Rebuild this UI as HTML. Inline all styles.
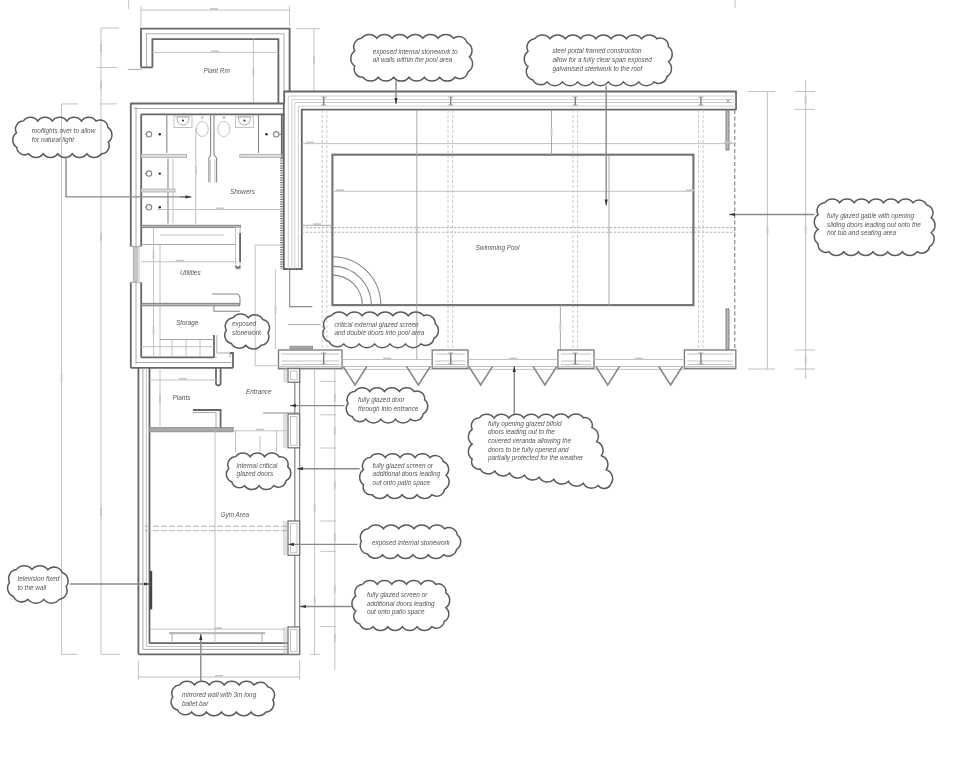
<!DOCTYPE html>
<html><head><meta charset="utf-8"><style>
html,body{margin:0;padding:0;background:#fff;}
svg{display:block;filter:blur(0.35px);}
line,polyline,polygon,rect,path,ellipse,circle{fill:none;}
.w{stroke:#666;stroke-width:1.8;}
.w2{stroke:#777;stroke-width:1.3;}
.t{stroke:#a0a0a0;stroke-width:0.9;}
.t2{stroke:#888;stroke-width:1.1;}
.l{stroke:#bbb;stroke-width:0.9;}
.d{stroke:#c4c4c4;stroke-width:0.9;stroke-dasharray:3 2;}
.d2{stroke:#aaa;stroke-width:0.9;stroke-dasharray:6 2;}
.d3{stroke:#bbb;stroke-width:1.1;stroke-dasharray:2.5 1.5;}
.dd{stroke:#999;stroke-width:1.4;stroke-dasharray:4 2.5;}
.hat{stroke:#666;stroke-width:2.4;stroke-dasharray:1.2 1.2;}
.p{stroke:#aaa;stroke-width:0.8;fill:#ddd;}
.pw{stroke:#777;stroke-width:0.9;fill:#bbb;}
.pg{stroke:#888;stroke-width:0.8;fill:#aaa;}
.pier{stroke:#777;stroke-width:1.3;fill:#fff;}
.g{stroke:#8a8a8a;stroke-width:1.3;}
.pool{stroke:#777;stroke-width:2.2;}
.gb{stroke:#777;stroke-width:0.9;fill:#bbb;}
.tri{stroke:#888;stroke-width:1.5;}
.mir{fill:#444;stroke:none;}
.win{fill:#c8c8c8;stroke:#999;stroke-width:0.6;}
.bb{stroke:#bbb;stroke-width:2.2;}
.dot{fill:#222;stroke:none;}
.cl{stroke:#5a5a5a;stroke-width:1.5;fill:none;}
.ar{stroke:#8a8a8a;stroke-width:1.4;}
.ah{fill:#333;stroke:none;}
text{font-family:"Liberation Sans",sans-serif;font-style:italic;}
.ct{font-size:6.4px;fill:#555;}
.rm{font-size:6.4px;fill:#555;}
.dm{font-size:3px;fill:#999;}
.dmb{fill:#c8c8c8;stroke:none;}
.l2{stroke:#c8c8c8;stroke-width:0.9;}
</style></head><body>
<svg width="962" height="757" viewBox="0 0 962 757">
<rect x="0" y="0" width="962" height="757" fill="#fff"/>
<line x1="61.5" y1="103.9" x2="61.5" y2="654.3" class="l"/>
<line x1="101" y1="28" x2="101" y2="654.3" class="l"/>
<line x1="101" y1="28" x2="119" y2="28" class="l"/>
<line x1="97" y1="67.5" x2="117" y2="67.5" class="l"/>
<line x1="100" y1="103.9" x2="117" y2="103.9" class="l"/>
<line x1="101" y1="654.3" x2="120" y2="654.3" class="l"/>
<line x1="61.5" y1="103.9" x2="78" y2="103.9" class="l"/>
<line x1="61.5" y1="654.3" x2="78" y2="654.3" class="l"/>
<line x1="127.8" y1="69.4" x2="141.7" y2="69.4" class="t"/>
<line x1="128.7" y1="0" x2="128.7" y2="9" class="l"/>
<line x1="735" y1="0" x2="735" y2="8" class="l"/>
<line x1="141" y1="10" x2="289.6" y2="10" class="l"/>
<line x1="141" y1="6" x2="141" y2="26" class="l"/>
<line x1="289.6" y1="6" x2="289.6" y2="26" class="l"/>
<line x1="314" y1="28.7" x2="314" y2="91.5" class="l"/>
<line x1="296" y1="28.7" x2="320" y2="28.7" class="l"/>
<line x1="767.4" y1="91.5" x2="767.4" y2="369" class="l"/>
<line x1="805.6" y1="80" x2="805.6" y2="379" class="l"/>
<line x1="748" y1="91.5" x2="775" y2="91.5" class="l"/>
<line x1="748" y1="369" x2="775" y2="369" class="l"/>
<line x1="795" y1="91.5" x2="815" y2="91.5" class="l"/>
<line x1="795" y1="109.4" x2="815" y2="109.4" class="l"/>
<line x1="795" y1="350" x2="815" y2="350" class="l"/>
<line x1="795" y1="369" x2="815" y2="369" class="l"/>
<line x1="314.6" y1="368" x2="314.6" y2="654" class="l"/>
<line x1="334.8" y1="368" x2="334.8" y2="670" class="l"/>
<line x1="320.4" y1="381.4" x2="336" y2="381.4" class="l"/>
<line x1="320.4" y1="414.8" x2="336" y2="414.8" class="l"/>
<line x1="320.4" y1="448" x2="336" y2="448" class="l"/>
<line x1="320.4" y1="521" x2="336" y2="521" class="l"/>
<line x1="320.4" y1="551.3" x2="336" y2="551.3" class="l"/>
<line x1="320.4" y1="626.6" x2="336" y2="626.6" class="l"/>
<line x1="310" y1="654.4" x2="320" y2="654.4" class="l"/>
<line x1="138.4" y1="677" x2="299.6" y2="677" class="l"/>
<line x1="138.4" y1="660" x2="138.4" y2="680" class="l"/>
<line x1="299.6" y1="660" x2="299.6" y2="680" class="l"/>
<polyline points="141,67.4 141,28.7 289.6,28.7 289.6,91.5" class="w"/>
<polyline points="152.4,67.4 152.4,39.2 278.4,39.2 278.4,103.5" class="w"/>
<line x1="141" y1="67.4" x2="152.4" y2="67.4" class="w"/>
<polyline points="146.5,67 146.5,33.8 284,33.8 284,91.5" class="t"/>
<line x1="152.4" y1="52.4" x2="278.4" y2="52.4" class="l"/>
<line x1="253.4" y1="39.2" x2="253.4" y2="103.5" class="l"/>
<text x="203.5" y="73" class="rm">Plant Rm</text>
<line x1="130.3" y1="103.5" x2="284.6" y2="103.5" class="w"/>
<line x1="130.8" y1="103.5" x2="130.8" y2="246.4" class="w"/>
<line x1="130.8" y1="282.3" x2="130.8" y2="367.9" class="w"/>
<line x1="141.2" y1="114.3" x2="284.7" y2="114.3" class="w"/>
<line x1="141.2" y1="114.3" x2="141.2" y2="246.4" class="w"/>
<line x1="141.2" y1="282.3" x2="141.2" y2="357.3" class="w"/>
<line x1="130.8" y1="246.4" x2="141.2" y2="246.4" class="t"/>
<line x1="130.8" y1="282.3" x2="141.2" y2="282.3" class="t"/>
<rect x="133.2" y="247" width="4.0" height="34.5" class="win"/>
<line x1="139" y1="247" x2="139" y2="281.5" class="l"/>
<line x1="136" y1="107" x2="136" y2="246" class="t"/>
<line x1="136" y1="282" x2="136" y2="364" class="t"/>
<line x1="134" y1="108.5" x2="284" y2="108.5" class="t"/>
<line x1="130.8" y1="367.9" x2="233" y2="367.9" class="w"/>
<polyline points="141.2,357.3 214,357.3" class="w"/>
<polyline points="216.8,335 216.8,353 230,353 230,357.3" class="t"/>
<polyline points="214,335 214,357.3" class="w"/>
<polyline points="214,357.3 216.8,357.3" class="t"/>
<polyline points="233,367.9 233,353 230,353" class="w"/>
<line x1="136" y1="362.5" x2="231" y2="362.5" class="t"/>
<line x1="281.8" y1="114.3" x2="281.8" y2="158" class="w"/>
<line x1="281.5" y1="158" x2="281.5" y2="269" class="hat"/>
<line x1="166.8" y1="114.3" x2="166.8" y2="153" class="t2"/>
<rect x="141.2" y="154.3" width="45.2" height="3.3" class="p"/>
<line x1="168" y1="158.6" x2="168" y2="223.5" class="t2"/>
<line x1="173" y1="158.6" x2="173" y2="223.5" class="l"/>
<rect x="141.2" y="189" width="33.8" height="3" class="p"/>
<line x1="258.5" y1="114.3" x2="258.5" y2="153" class="t2"/>
<rect x="239.8" y="154.3" width="41.7" height="3.3" class="p"/>
<rect x="141.2" y="225.3" width="99.2" height="2.3" class="pw"/>
<path d="M210.6,114.3 L210.6,155 L208.9,158 L208.9,182.5 M214,114.3 L214,155 L216.6,158 L216.6,182.5" class="t2"/>
<path d="M210.6,160 L210.6,182.5 M214.9,160 L214.9,182.5" class="l"/>
<ellipse cx="202.3" cy="129" rx="6" ry="7.5" class="l"/>
<circle cx="202.3" cy="117.5" r="0.9" class="t"/>
<ellipse cx="223.9" cy="129" rx="6" ry="7.5" class="l"/>
<circle cx="223.9" cy="117.5" r="0.9" class="t"/>
<rect x="174" y="116" width="18" height="11.5" class="l"/>
<path d="M177,117 L189,117 Q189,125 183,125 Q177,125 177,117" class="t"/>
<circle cx="183" cy="120.5" r="1" class="dot"/>
<rect x="235.4" y="116" width="18.0" height="11.5" class="l"/>
<path d="M238.4,117 L250.4,117 Q250.4,125 244.4,125 Q238.4,125 238.4,117" class="t"/>
<circle cx="244.4" cy="120.5" r="1" class="dot"/>
<circle cx="149" cy="134.3" r="2.7" class="t2"/>
<circle cx="159.8" cy="134.3" r="1.2" class="dot"/>
<line x1="145" y1="134.3" x2="146.3" y2="134.3" class="t2"/>
<circle cx="149" cy="173.6" r="2.7" class="t2"/>
<circle cx="159.8" cy="173.6" r="1.2" class="dot"/>
<line x1="145" y1="173.6" x2="146.3" y2="173.6" class="t2"/>
<circle cx="149" cy="207.3" r="2.7" class="t2"/>
<circle cx="159.8" cy="207.3" r="1.2" class="dot"/>
<line x1="145" y1="207.3" x2="146.3" y2="207.3" class="t2"/>
<circle cx="276.2" cy="134.3" r="2.7" class="t2"/>
<circle cx="266.5" cy="134.3" r="1.2" class="dot"/>
<line x1="278.9" y1="134.3" x2="281.2" y2="134.3" class="t2"/>
<text x="230" y="194" class="rm">Showers</text>
<line x1="195.8" y1="128" x2="195.8" y2="224" class="l"/>
<line x1="157" y1="209.5" x2="283" y2="209.5" class="l"/>
<text x="188" y="211" class="dm"></text>
<line x1="141.2" y1="244.5" x2="235.6" y2="244.5" class="t"/>
<line x1="160" y1="235" x2="224" y2="235" class="l"/>
<rect x="235.6" y="227.4" width="4.5" height="41.6" class="l"/>
<line x1="240.1" y1="233" x2="240.1" y2="262" class="w"/>
<path d="M236,266 Q238,270 240.1,266" class="w"/>
<line x1="141.2" y1="261.8" x2="237" y2="261.8" class="l"/>
<line x1="153.5" y1="227.6" x2="153.5" y2="357" class="l"/>
<line x1="160" y1="245" x2="160" y2="357" class="l"/>
<text x="180" y="275" class="rm">Utilities</text>
<rect x="141.2" y="303.3" width="98.2" height="2.5" class="pw"/>
<path d="M212,294 L236,294 Q240,294 240,299 L240,305" class="t2"/>
<path d="M214,305.8 L214,311.3 L240,311.3" class="t2"/>
<text x="176" y="325" class="rm">Storage</text>
<line x1="160" y1="339.5" x2="214" y2="339.5" class="t"/>
<line x1="141.2" y1="346.7" x2="214" y2="346.7" class="l"/>
<line x1="172" y1="339.5" x2="172" y2="357" class="l"/>
<line x1="186" y1="339.5" x2="186" y2="357" class="l"/>
<line x1="200" y1="339.5" x2="200" y2="357" class="l"/>
<polyline points="284.8,245 255.2,245 255.2,365.8 278.5,365.8" class="l"/>
<line x1="275.4" y1="269.6" x2="275.4" y2="349" class="l"/>
<polyline points="289.7,269 289.7,306.6 312.3,306.6" class="t2"/>
<polyline points="284.2,103.5 284.2,91.5 736,91.5 736,110" class="w"/>
<polyline points="283.8,103.5 283.8,269 301.8,269 301.8,109.7 736,109.7" class="w"/>
<polyline points="288.3,269 288.3,96.0 736,96.0" class="l2"/>
<polyline points="291.90000000000003,269 291.90000000000003,99.6 736,99.6" class="l2"/>
<polyline points="294.8,269 294.8,102.5 736,102.5" class="l2"/>
<polyline points="298.40000000000003,269 298.40000000000003,106.1 736,106.1" class="l2"/>
<line x1="321.2" y1="97" x2="326.2" y2="97" class="t"/>
<line x1="321.2" y1="105" x2="326.2" y2="105" class="t"/>
<line x1="323.7" y1="97" x2="323.7" y2="105" class="w2"/>
<line x1="448.2" y1="97" x2="453.2" y2="97" class="t"/>
<line x1="448.2" y1="105" x2="453.2" y2="105" class="t"/>
<line x1="450.7" y1="97" x2="450.7" y2="105" class="w2"/>
<line x1="572.8" y1="97" x2="577.8" y2="97" class="t"/>
<line x1="572.8" y1="105" x2="577.8" y2="105" class="t"/>
<line x1="575.3" y1="97" x2="575.3" y2="105" class="w2"/>
<line x1="698.4" y1="97" x2="703.4" y2="97" class="t"/>
<line x1="698.4" y1="105" x2="703.4" y2="105" class="t"/>
<line x1="700.9" y1="97" x2="700.9" y2="105" class="w2"/>
<path d="M726,99 l4,4 m0,-4 l-4,4" class="t"/>
<line x1="322.2" y1="110" x2="322.2" y2="350" class="d"/>
<line x1="326.8" y1="110" x2="326.8" y2="350" class="d"/>
<line x1="448" y1="110" x2="448" y2="350" class="d"/>
<line x1="452.6" y1="110" x2="452.6" y2="350" class="d"/>
<line x1="573" y1="110" x2="573" y2="350" class="d"/>
<line x1="577.6" y1="110" x2="577.6" y2="350" class="d"/>
<line x1="698.5" y1="110" x2="698.5" y2="350" class="d"/>
<line x1="703" y1="110" x2="703" y2="350" class="d"/>
<line x1="302" y1="227.6" x2="736" y2="227.6" class="d3"/>
<line x1="302" y1="232.2" x2="736" y2="232.2" class="d3"/>
<line x1="734.7" y1="110" x2="734.7" y2="350" class="dd"/>
<rect x="332.4" y="154.7" width="361.0" height="150.4" class="pool"/>
<line x1="302" y1="143.6" x2="736" y2="143.6" class="l"/>
<line x1="332.4" y1="191.3" x2="693.4" y2="191.3" class="l"/>
<line x1="416.8" y1="110" x2="416.8" y2="360" class="t"/>
<line x1="551.5" y1="110" x2="551.5" y2="154.7" class="t"/>
<line x1="609" y1="154.7" x2="609" y2="305" class="t"/>
<line x1="560.4" y1="305.1" x2="560.4" y2="350" class="t"/>
<path d="M332.4,275.1 A30,30 0 0 1 362.4,305.1" class="t2"/>
<path d="M332.4,266.1 A39,39 0 0 1 371.4,305.1" class="t2"/>
<path d="M332.4,256.7 A48.4,48.4 0 0 1 380.8,305.1" class="t2"/>
<text x="475.5" y="250" class="rm">Swimming Pool</text>
<line x1="302" y1="225.3" x2="332.4" y2="225.3" class="t"/>
<rect x="726" y="110" width="3" height="40" class="gb"/>
<rect x="726" y="309" width="3" height="41" class="gb"/>
<rect x="278.5" y="350" width="63.5" height="18.4" class="pier"/>
<line x1="281.5" y1="354" x2="339" y2="354" class="l"/>
<line x1="281.5" y1="361" x2="339" y2="361" class="l"/>
<line x1="281.5" y1="364.5" x2="339" y2="364.5" class="l"/>
<line x1="321.2" y1="353" x2="326.2" y2="353" class="t"/>
<line x1="321.2" y1="364" x2="326.2" y2="364" class="t"/>
<line x1="323.7" y1="353" x2="323.7" y2="364" class="w2"/>
<rect x="432.2" y="350" width="35.8" height="18.4" class="pier"/>
<line x1="435.2" y1="354" x2="465" y2="354" class="l"/>
<line x1="435.2" y1="361" x2="465" y2="361" class="l"/>
<line x1="435.2" y1="364.5" x2="465" y2="364.5" class="l"/>
<line x1="448.2" y1="353" x2="453.2" y2="353" class="t"/>
<line x1="448.2" y1="364" x2="453.2" y2="364" class="t"/>
<line x1="450.7" y1="353" x2="450.7" y2="364" class="w2"/>
<rect x="557.9" y="350" width="36.1" height="18.4" class="pier"/>
<line x1="560.9" y1="354" x2="591" y2="354" class="l"/>
<line x1="560.9" y1="361" x2="591" y2="361" class="l"/>
<line x1="560.9" y1="364.5" x2="591" y2="364.5" class="l"/>
<line x1="572.8" y1="353" x2="577.8" y2="353" class="t"/>
<line x1="572.8" y1="364" x2="577.8" y2="364" class="t"/>
<line x1="575.3" y1="353" x2="575.3" y2="364" class="w2"/>
<rect x="684.4" y="350" width="51.4" height="18.4" class="pier"/>
<line x1="687.4" y1="354" x2="732.8" y2="354" class="l"/>
<line x1="687.4" y1="361" x2="732.8" y2="361" class="l"/>
<line x1="687.4" y1="364.5" x2="732.8" y2="364.5" class="l"/>
<line x1="698.4" y1="353" x2="703.4" y2="353" class="t"/>
<line x1="698.4" y1="364" x2="703.4" y2="364" class="t"/>
<line x1="700.9" y1="353" x2="700.9" y2="364" class="w2"/>
<rect x="290" y="346.2" width="22.6" height="2.8" class="pg"/>
<line x1="342" y1="359.5" x2="432.2" y2="359.5" class="l"/>
<line x1="468" y1="359.5" x2="557.9" y2="359.5" class="l"/>
<line x1="594" y1="359.5" x2="684.4" y2="359.5" class="l"/>
<line x1="278" y1="366.5" x2="736" y2="366.5" class="l"/>
<line x1="278" y1="369.4" x2="736" y2="369.4" class="l"/>
<polyline points="343.2,366.5 355,385 366.8,366.5" class="tri"/>
<polyline points="406.59999999999997,366.5 418.4,385 430.2,366.5" class="tri"/>
<polyline points="468.9,366.5 480.7,385 492.5,366.5" class="tri"/>
<polyline points="533.1,366.5 544.9,385 556.6999999999999,366.5" class="tri"/>
<polyline points="595.9000000000001,366.5 607.7,385 619.5,366.5" class="tri"/>
<polyline points="658.8000000000001,366.5 670.6,385 682.4,366.5" class="tri"/>
<line x1="138.4" y1="367.9" x2="138.4" y2="654.3" class="w"/>
<line x1="142.9" y1="367.9" x2="142.9" y2="649.4" class="t"/>
<line x1="149.5" y1="367.9" x2="149.5" y2="643.2" class="w"/>
<line x1="138.4" y1="654.3" x2="299.6" y2="654.3" class="w"/>
<line x1="142.9" y1="649.4" x2="299.6" y2="649.4" class="t"/>
<polyline points="146.4,368 146.4,646.5 295,646.5" class="l"/>
<line x1="149.5" y1="643.2" x2="294.3" y2="643.2" class="w"/>
<line x1="299.6" y1="367.9" x2="299.6" y2="654.3" class="g"/>
<line x1="294.8" y1="382" x2="294.8" y2="643.2" class="g"/>
<rect x="288" y="368.5" width="11.6" height="13.7" class="pier"/>
<rect x="290.5" y="371.0" width="6.5" height="8.7" class="l"/>
<line x1="284" y1="368.5" x2="284" y2="382.2" class="l"/>
<line x1="286" y1="368.5" x2="286" y2="382.2" class="l"/>
<rect x="288" y="414" width="11.6" height="33.8" class="pier"/>
<rect x="290.5" y="416.5" width="6.5" height="28.8" class="l"/>
<line x1="284" y1="414" x2="284" y2="447.8" class="l"/>
<line x1="286" y1="414" x2="286" y2="447.8" class="l"/>
<rect x="288" y="521" width="11.6" height="34.3" class="pier"/>
<rect x="290.5" y="523.5" width="6.5" height="29.3" class="l"/>
<line x1="284" y1="521" x2="284" y2="555.3" class="l"/>
<line x1="286" y1="521" x2="286" y2="555.3" class="l"/>
<rect x="288" y="627" width="11.6" height="27.3" class="pier"/>
<rect x="290.5" y="629.5" width="6.5" height="22.3" class="l"/>
<line x1="284" y1="627" x2="284" y2="654.3" class="l"/>
<line x1="286" y1="627" x2="286" y2="654.3" class="l"/>
<path d="M216,368 L216,384 Q218.3,387 220.6,384 L220.6,368" class="w"/>
<polyline points="193,410 220.6,410 220.6,429" class="w"/>
<polyline points="193,412.5 216,412.5 216,429" class="t"/>
<rect x="149.5" y="427.5" width="83.7" height="4.3" class="pg"/>
<line x1="263" y1="413" x2="299" y2="413" class="t2"/>
<line x1="149.5" y1="380" x2="218" y2="380" class="l"/>
<line x1="160" y1="368" x2="160" y2="428" class="l"/>
<text x="246" y="394" class="rm">Entrance</text>
<text x="172.6" y="400" class="rm">Plants</text>
<line x1="235.5" y1="430.3" x2="235.5" y2="452" class="l"/>
<line x1="276.6" y1="430" x2="276.6" y2="452" class="l"/>
<line x1="233" y1="430.8" x2="288" y2="430.8" class="l"/>
<line x1="260" y1="436" x2="260" y2="452" class="l"/>
<text x="220.5" y="517" class="rm">Gym Area</text>
<line x1="145" y1="526.2" x2="289" y2="526.2" class="d2"/>
<line x1="145" y1="530.7" x2="289" y2="530.7" class="d2"/>
<line x1="215" y1="430.3" x2="215" y2="643" class="l"/>
<rect x="149.8" y="571" width="2.4" height="38.4" class="mir"/>
<line x1="150" y1="629.2" x2="285" y2="629.2" class="l"/>
<line x1="169" y1="633.2" x2="265.3" y2="633.2" class="bb"/>
<line x1="172" y1="633.2" x2="172" y2="643" class="t"/>
<line x1="262" y1="633.2" x2="262" y2="643" class="t"/>
<rect x="100.1" y="44.0" width="1.8" height="8" class="dmb"/>
<rect x="100.1" y="81.0" width="1.8" height="8" class="dmb"/>
<rect x="100.1" y="233.0" width="1.8" height="8" class="dmb"/>
<rect x="100.1" y="508.0" width="1.8" height="8" class="dmb"/>
<rect x="60.6" y="374.0" width="1.8" height="8" class="dmb"/>
<rect x="766.5" y="226.0" width="1.8" height="8" class="dmb"/>
<rect x="804.7" y="96.0" width="1.8" height="8" class="dmb"/>
<rect x="804.7" y="226.0" width="1.8" height="8" class="dmb"/>
<rect x="804.7" y="356.0" width="1.8" height="8" class="dmb"/>
<rect x="313.7" y="504.0" width="1.8" height="8" class="dmb"/>
<rect x="313.7" y="596.0" width="1.8" height="8" class="dmb"/>
<rect x="333.9" y="394.0" width="1.8" height="8" class="dmb"/>
<rect x="333.9" y="427.0" width="1.8" height="8" class="dmb"/>
<rect x="333.9" y="481.0" width="1.8" height="8" class="dmb"/>
<rect x="333.9" y="533.0" width="1.8" height="8" class="dmb"/>
<rect x="333.9" y="585.0" width="1.8" height="8" class="dmb"/>
<rect x="333.9" y="634.0" width="1.8" height="8" class="dmb"/>
<rect x="252.5" y="68.0" width="1.8" height="8" class="dmb"/>
<rect x="313.1" y="56.0" width="1.8" height="8" class="dmb"/>
<rect x="194.9" y="166.0" width="1.8" height="8" class="dmb"/>
<rect x="152.6" y="251.0" width="1.8" height="8" class="dmb"/>
<rect x="152.6" y="326.0" width="1.8" height="8" class="dmb"/>
<rect x="159.1" y="394.0" width="1.8" height="8" class="dmb"/>
<rect x="274.5" y="306.0" width="1.8" height="8" class="dmb"/>
<rect x="415.9" y="226.0" width="1.8" height="8" class="dmb"/>
<rect x="608.1" y="226.0" width="1.8" height="8" class="dmb"/>
<rect x="550.6" y="128.0" width="1.8" height="8" class="dmb"/>
<rect x="559.5" y="323.0" width="1.8" height="8" class="dmb"/>
<rect x="211.0" y="50.4" width="8" height="1.8" class="dmb"/>
<rect x="306.0" y="141.6" width="8" height="1.8" class="dmb"/>
<rect x="724.0" y="141.6" width="8" height="1.8" class="dmb"/>
<rect x="336.0" y="189.3" width="8" height="1.8" class="dmb"/>
<rect x="686.0" y="189.3" width="8" height="1.8" class="dmb"/>
<rect x="216.0" y="207.5" width="8" height="1.8" class="dmb"/>
<rect x="176.0" y="259.8" width="8" height="1.8" class="dmb"/>
<rect x="179.0" y="378.0" width="8" height="1.8" class="dmb"/>
<rect x="256.0" y="428.8" width="8" height="1.8" class="dmb"/>
<rect x="214.0" y="627.2" width="8" height="1.8" class="dmb"/>
<rect x="215.0" y="675.0" width="8" height="1.8" class="dmb"/>
<rect x="383.0" y="357.5" width="8" height="1.8" class="dmb"/>
<rect x="509.0" y="357.5" width="8" height="1.8" class="dmb"/>
<rect x="635.0" y="357.5" width="8" height="1.8" class="dmb"/>
<rect x="313.0" y="223.3" width="8" height="1.8" class="dmb"/>
<rect x="210.0" y="8.0" width="8" height="1.8" class="dmb"/>
<path d="M361.5,38.3 A9.6,9.6 0 0 1 376.8,38.3 A9.6,9.6 0 0 1 392.1,38.3 A9.6,9.6 0 0 1 407.5,38.3 A9.6,9.6 0 0 1 422.8,38.3 A9.6,9.6 0 0 1 438.1,38.3 A9.6,9.6 0 0 1 453.5,38.3 A8.5,8.5 0 0 1 467.0,42.7 A8.9,8.9 0 0 1 469.4,57.0 A9.1,9.1 0 0 1 468.0,71.8 A8.5,8.5 0 0 1 455.0,77.2 A9.6,9.6 0 0 1 439.6,77.2 A9.6,9.6 0 0 1 424.3,77.2 A9.6,9.6 0 0 1 409.0,77.2 A9.6,9.6 0 0 1 393.6,77.2 A9.6,9.6 0 0 1 378.3,77.2 A9.6,9.6 0 0 1 363.0,77.2 A8.2,8.2 0 0 1 354.7,66.2 A9.6,9.6 0 0 1 354.7,50.8 A8.6,8.6 0 0 1 361.5,38.3" class="cl"/>
<text x="372.7" y="53.7" class="ct">exposed internal stonework to</text>
<text x="372.7" y="62.4" class="ct">all walls within the pool area</text>
<line x1="396" y1="81" x2="396" y2="104" class="ar"/>
<polygon points="396.0,104.0 394.4,98.0 397.6,98.0" class="ah"/>
<path d="M534.8,38.8 A9.6,9.6 0 0 1 550.0,38.8 A9.6,9.6 0 0 1 565.3,38.8 A9.6,9.6 0 0 1 580.6,38.8 A9.6,9.6 0 0 1 595.8,38.8 A9.6,9.6 0 0 1 611.1,38.8 A9.6,9.6 0 0 1 626.4,38.8 A9.6,9.6 0 0 1 641.6,38.8 A9.6,9.6 0 0 1 656.9,38.8 A8.2,8.2 0 0 1 668.4,46.5 A9.6,9.6 0 0 1 668.4,61.8 A9.1,9.1 0 0 1 667.0,76.5 A8.4,8.4 0 0 1 654.0,81.9 A9.6,9.6 0 0 1 638.7,81.9 A9.6,9.6 0 0 1 623.5,81.9 A9.6,9.6 0 0 1 608.2,81.9 A9.6,9.6 0 0 1 592.9,81.9 A9.6,9.6 0 0 1 577.7,81.9 A9.6,9.6 0 0 1 562.4,81.9 A9.6,9.6 0 0 1 547.1,81.9 A8.9,8.9 0 0 1 532.7,79.8 A8.5,8.5 0 0 1 528.0,66.5 A9.6,9.6 0 0 1 528.0,51.3 A8.5,8.5 0 0 1 534.8,38.8" class="cl"/>
<text x="552.4" y="53.3" class="ct">steel portal framed construction</text>
<text x="552.4" y="61.9" class="ct">allow for a fully clear span exposed</text>
<text x="552.4" y="70.5" class="ct">galvanised steelwork to the roof</text>
<line x1="606.2" y1="85.7" x2="606.2" y2="205.6" class="ar"/>
<polygon points="606.2,205.6 604.6,199.6 607.8,199.6" class="ah"/>
<path d="M824.9,202.7 A9.0,9.0 0 0 1 839.6,202.7 A9.0,9.0 0 0 1 854.2,202.7 A9.0,9.0 0 0 1 868.9,202.7 A9.0,9.0 0 0 1 883.6,202.7 A9.0,9.0 0 0 1 898.3,202.7 A9.0,9.0 0 0 1 913.0,202.7 A8.3,8.3 0 0 1 926.7,205.0 A8.0,8.0 0 0 1 931.2,217.8 A9.0,9.0 0 0 1 931.2,232.5 A8.5,8.5 0 0 1 929.6,246.5 A8.0,8.0 0 0 1 917.1,251.7 A9.0,9.0 0 0 1 902.4,251.7 A9.0,9.0 0 0 1 887.7,251.7 A9.0,9.0 0 0 1 873.0,251.7 A9.0,9.0 0 0 1 858.4,251.7 A9.0,9.0 0 0 1 843.7,251.7 A9.0,9.0 0 0 1 829.0,251.7 A7.8,7.8 0 0 1 818.1,243.9 A9.0,9.0 0 0 1 818.1,229.3 A9.0,9.0 0 0 1 818.1,214.6 A8.0,8.0 0 0 1 824.9,202.7" class="cl"/>
<text x="827" y="218.2" class="ct">fully glazed gable with opening</text>
<text x="827" y="226.8" class="ct">sliding doors leading out onto the</text>
<text x="827" y="235.4" class="ct">hot tub and seating area</text>
<line x1="814.3" y1="214.5" x2="729" y2="214.5" class="ar"/>
<polygon points="729.0,214.5 735.0,212.9 735.0,216.1" class="ah"/>
<path d="M235.6,456.8 A8.8,8.8 0 0 1 250.1,456.8 A8.8,8.8 0 0 1 264.6,456.8 A8.8,8.8 0 0 1 279.1,456.8 A7.6,7.6 0 0 1 287.7,466.7 A8.3,8.3 0 0 1 286.1,480.6 A7.8,7.8 0 0 1 273.7,485.7 A8.8,8.8 0 0 1 259.1,485.7 A8.8,8.8 0 0 1 244.6,485.7 A7.9,7.9 0 0 1 231.7,481.8 A8.0,8.0 0 0 1 228.8,468.5 A7.9,7.9 0 0 1 235.6,456.8" class="cl"/>
<text x="236.6" y="467.5" class="ct">internal critical</text>
<text x="236.6" y="476.1" class="ct">glazed doors</text>
<path d="M23.3,121.1 A8.9,8.9 0 0 1 37.8,121.1 A8.9,8.9 0 0 1 52.4,121.1 A8.9,8.9 0 0 1 66.9,121.1 A8.9,8.9 0 0 1 81.5,121.1 A8.9,8.9 0 0 1 96.0,121.1 A7.9,7.9 0 0 1 107.9,127.5 A8.7,8.7 0 0 1 108.2,142.0 A7.9,7.9 0 0 1 101.4,153.7 A8.9,8.9 0 0 1 86.9,153.7 A8.9,8.9 0 0 1 72.3,153.7 A8.9,8.9 0 0 1 57.8,153.7 A8.9,8.9 0 0 1 43.2,153.7 A8.9,8.9 0 0 1 28.7,153.7 A7.9,7.9 0 0 1 16.8,147.3 A8.7,8.7 0 0 1 16.5,132.8 A7.9,7.9 0 0 1 23.3,121.1" class="cl"/>
<text x="31.7" y="133.0" class="ct">rooflights over to allow</text>
<text x="31.7" y="141.6" class="ct">for natural light</text>
<polyline points="66,157.5 66,196.9 185,196.9" class="ar"/>
<line x1="180" y1="196.9" x2="191.4" y2="196.9" class="ar"/>
<polygon points="191.4,196.9 185.4,198.5 185.4,195.3" class="ah"/>
<path d="M233.1,317.8 A9.6,9.6 0 0 1 248.3,317.8 A9.0,9.0 0 0 1 262.9,319.6 A8.4,8.4 0 0 1 267.9,332.7 A8.5,8.5 0 0 1 261.1,345.2 A9.6,9.6 0 0 1 245.9,345.2 A9.0,9.0 0 0 1 231.3,343.4 A8.4,8.4 0 0 1 226.3,330.3 A8.5,8.5 0 0 1 233.1,317.8" class="cl"/>
<text x="232" y="326.0" class="ct">exposed</text>
<text x="232" y="334.6" class="ct">stonework</text>
<path d="M331.4,315.8 A9.7,9.7 0 0 1 346.8,315.8 A9.7,9.7 0 0 1 362.1,315.8 A9.7,9.7 0 0 1 377.5,315.8 A9.7,9.7 0 0 1 392.9,315.8 A9.7,9.7 0 0 1 408.3,315.8 A9.7,9.7 0 0 1 423.7,315.8 A8.3,8.3 0 0 1 435.2,323.6 A9.2,9.2 0 0 1 433.9,338.5 A8.5,8.5 0 0 1 420.7,343.9 A9.7,9.7 0 0 1 405.4,343.9 A9.7,9.7 0 0 1 390.0,343.9 A9.7,9.7 0 0 1 374.6,343.9 A9.7,9.7 0 0 1 359.2,343.9 A9.7,9.7 0 0 1 343.8,343.9 A9.0,9.0 0 0 1 329.3,341.8 A8.6,8.6 0 0 1 324.6,328.4 A8.6,8.6 0 0 1 331.4,315.8" class="cl"/>
<text x="334.4" y="326.5" class="ct">critical external glazed screen</text>
<text x="334.4" y="335.1" class="ct">and double doors into pool area</text>
<line x1="320.8" y1="324.6" x2="288" y2="324.6" class="t"/>
<path d="M354.9,391.5 A9.1,9.1 0 0 1 369.7,391.5 A9.1,9.1 0 0 1 384.5,391.5 A9.1,9.1 0 0 1 399.3,391.5 A9.1,9.1 0 0 1 414.1,391.5 A7.8,7.8 0 0 1 424.6,399.7 A8.6,8.6 0 0 1 423.1,413.9 A8.0,8.0 0 0 1 410.4,419.1 A9.1,9.1 0 0 1 395.6,419.1 A9.1,9.1 0 0 1 380.8,419.1 A9.1,9.1 0 0 1 366.0,419.1 A8.3,8.3 0 0 1 352.3,416.5 A8.1,8.1 0 0 1 348.1,403.5 A8.1,8.1 0 0 1 354.9,391.5" class="cl"/>
<text x="358" y="402.0" class="ct">fully glazed door</text>
<text x="358" y="410.6" class="ct">through into entrance</text>
<line x1="344.3" y1="405.6" x2="290" y2="405.6" class="ar"/>
<polygon points="290.0,405.6 296.0,404.0 296.0,407.2" class="ah"/>
<path d="M370.3,457.6 A9.2,9.2 0 0 1 385.2,457.6 A9.2,9.2 0 0 1 400.1,457.6 A9.2,9.2 0 0 1 415.0,457.6 A9.2,9.2 0 0 1 429.9,457.6 A8.2,8.2 0 0 1 443.2,461.5 A8.3,8.3 0 0 1 446.1,475.2 A8.7,8.7 0 0 1 444.6,489.4 A8.1,8.1 0 0 1 431.9,494.7 A9.2,9.2 0 0 1 417.0,494.7 A9.2,9.2 0 0 1 402.1,494.7 A9.2,9.2 0 0 1 387.2,494.7 A9.2,9.2 0 0 1 372.3,494.7 A7.8,7.8 0 0 1 363.5,484.6 A9.2,9.2 0 0 1 363.5,469.7 A8.2,8.2 0 0 1 370.3,457.6" class="cl"/>
<text x="372.6" y="467.5" class="ct">fully glazed screen or</text>
<text x="372.6" y="476.1" class="ct">additional doors leading</text>
<text x="372.6" y="484.7" class="ct">out onto patio space</text>
<line x1="359.7" y1="468.7" x2="297" y2="468.7" class="ar"/>
<polygon points="297.0,468.7 303.0,467.1 303.0,470.3" class="ah"/>
<path d="M368.2,528.8 A9.6,9.6 0 0 1 383.4,528.8 A9.6,9.6 0 0 1 398.7,528.8 A9.6,9.6 0 0 1 414.0,528.8 A9.6,9.6 0 0 1 429.3,528.8 A9.6,9.6 0 0 1 444.5,528.8 A8.5,8.5 0 0 1 457.3,534.9 A8.8,8.8 0 0 1 456.6,549.3 A8.5,8.5 0 0 1 443.6,554.7 A9.6,9.6 0 0 1 428.3,554.7 A9.6,9.6 0 0 1 413.0,554.7 A9.6,9.6 0 0 1 397.8,554.7 A9.6,9.6 0 0 1 382.5,554.7 A9.3,9.3 0 0 1 367.5,554.0 A8.5,8.5 0 0 1 361.4,541.3 A8.5,8.5 0 0 1 368.2,528.8" class="cl"/>
<text x="372" y="545.0" class="ct">exposed internal stonework</text>
<line x1="357.6" y1="544.4" x2="288" y2="544.4" class="ar"/>
<polygon points="288.0,544.4 294.0,542.8 294.0,546.0" class="ah"/>
<path d="M362.6,584.4 A8.9,8.9 0 0 1 377.2,584.4 A8.9,8.9 0 0 1 391.8,584.4 A8.9,8.9 0 0 1 406.5,584.4 A8.9,8.9 0 0 1 421.1,584.4 A8.9,8.9 0 0 1 435.7,584.4 A7.6,7.6 0 0 1 445.8,592.9 A8.9,8.9 0 0 1 445.8,607.6 A8.4,8.4 0 0 1 444.2,621.5 A7.9,7.9 0 0 1 431.7,626.7 A8.9,8.9 0 0 1 417.1,626.7 A8.9,8.9 0 0 1 402.4,626.7 A8.9,8.9 0 0 1 387.8,626.7 A8.9,8.9 0 0 1 373.2,626.7 A8.1,8.1 0 0 1 359.7,623.9 A8.0,8.0 0 0 1 355.8,610.9 A8.9,8.9 0 0 1 355.8,596.2 A8.0,8.0 0 0 1 362.6,584.4" class="cl"/>
<text x="367" y="597.0" class="ct">fully glazed screen or</text>
<text x="367" y="605.6" class="ct">additional doors leading</text>
<text x="367" y="614.2" class="ct">out onto patio space</text>
<line x1="352" y1="606.5" x2="300" y2="606.5" class="ar"/>
<polygon points="300.0,606.5 306.0,604.9 306.0,608.1" class="ah"/>
<path d="M479.2,418.1 A9.2,9.2 0 0 1 494.1,418.1 A9.2,9.2 0 0 1 508.9,418.0 A9.2,9.2 0 0 1 523.8,418.0 A9.2,9.2 0 0 1 538.7,417.9 A9.2,9.2 0 0 1 553.5,417.9 A9.2,9.2 0 0 1 568.4,417.8 A9.2,9.2 0 0 1 583.3,417.8 A7.5,7.5 0 0 1 591.9,427.6 A9.2,9.2 0 0 1 596.7,441.7 A9.2,9.2 0 0 1 601.4,455.7 A9.2,9.2 0 0 1 606.2,469.8 A9.2,9.2 0 0 1 610.9,483.9 A7.4,7.4 0 0 1 598.1,485.4 A9.2,9.2 0 0 1 583.4,483.3 A9.2,9.2 0 0 1 568.6,481.3 A9.2,9.2 0 0 1 553.9,479.3 A9.2,9.2 0 0 1 539.2,477.2 A9.2,9.2 0 0 1 524.5,475.2 A9.2,9.2 0 0 1 509.7,473.1 A9.2,9.2 0 0 1 495.0,471.1 A9.2,9.2 0 0 1 480.3,469.1 A7.3,7.3 0 0 1 472.2,459.1 A9.2,9.2 0 0 1 472.2,444.2 A9.2,9.2 0 0 1 472.2,429.3 A7.7,7.7 0 0 1 479.2,418.1" class="cl"/>
<text x="488" y="425.5" class="ct">fully opening glazed bifold</text>
<text x="488" y="434.2" class="ct">doors leading out to the</text>
<text x="488" y="442.9" class="ct">covered veranda allowing the</text>
<text x="488" y="451.6" class="ct">doors to be fully opened and</text>
<text x="488" y="460.3" class="ct">partially protected for the weather</text>
<line x1="514.3" y1="414" x2="514.3" y2="366" class="ar"/>
<polygon points="514.3,366.0 515.9,372.0 512.7,372.0" class="ah"/>
<path d="M16.4,569.6 A10.0,10.0 0 0 1 32.0,569.6 A10.0,10.0 0 0 1 47.7,569.6 A9.1,9.1 0 0 1 62.2,572.5 A8.9,8.9 0 0 1 66.1,586.5 A8.9,8.9 0 0 1 59.3,599.4 A10.0,10.0 0 0 1 43.7,599.4 A10.0,10.0 0 0 1 28.0,599.4 A9.1,9.1 0 0 1 13.5,596.5 A8.9,8.9 0 0 1 9.6,582.5 A8.9,8.9 0 0 1 16.4,569.6" class="cl"/>
<text x="17.5" y="581.0" class="ct">television fixed</text>
<text x="17.5" y="589.6" class="ct">to the wall</text>
<line x1="69.9" y1="584" x2="150" y2="584" class="ar"/>
<polygon points="150.0,584.0 144.0,585.6 144.0,582.4" class="ah"/>
<path d="M179.6,685.0 A9.2,9.2 0 0 1 194.5,685.0 A9.2,9.2 0 0 1 209.3,685.0 A9.2,9.2 0 0 1 224.2,685.0 A9.2,9.2 0 0 1 239.1,685.0 A9.2,9.2 0 0 1 254.0,685.0 A8.5,8.5 0 0 1 268.0,687.0 A8.1,8.1 0 0 1 272.8,699.9 A8.2,8.2 0 0 1 266.0,712.0 A9.2,9.2 0 0 1 251.1,712.0 A9.2,9.2 0 0 1 236.3,712.0 A9.2,9.2 0 0 1 221.4,712.0 A9.2,9.2 0 0 1 206.5,712.0 A9.2,9.2 0 0 1 191.6,712.0 A8.5,8.5 0 0 1 177.6,710.0 A8.1,8.1 0 0 1 172.8,697.1 A8.2,8.2 0 0 1 179.6,685.0" class="cl"/>
<text x="182" y="697" class="ct">mirrored wall with 3m long</text>
<text x="182" y="706" class="ct">ballet bar</text>
<line x1="200.8" y1="681.2" x2="200.8" y2="634" class="ar"/>
<polygon points="200.8,634.0 202.4,640.0 199.2,640.0" class="ah"/>
</svg></body></html>
